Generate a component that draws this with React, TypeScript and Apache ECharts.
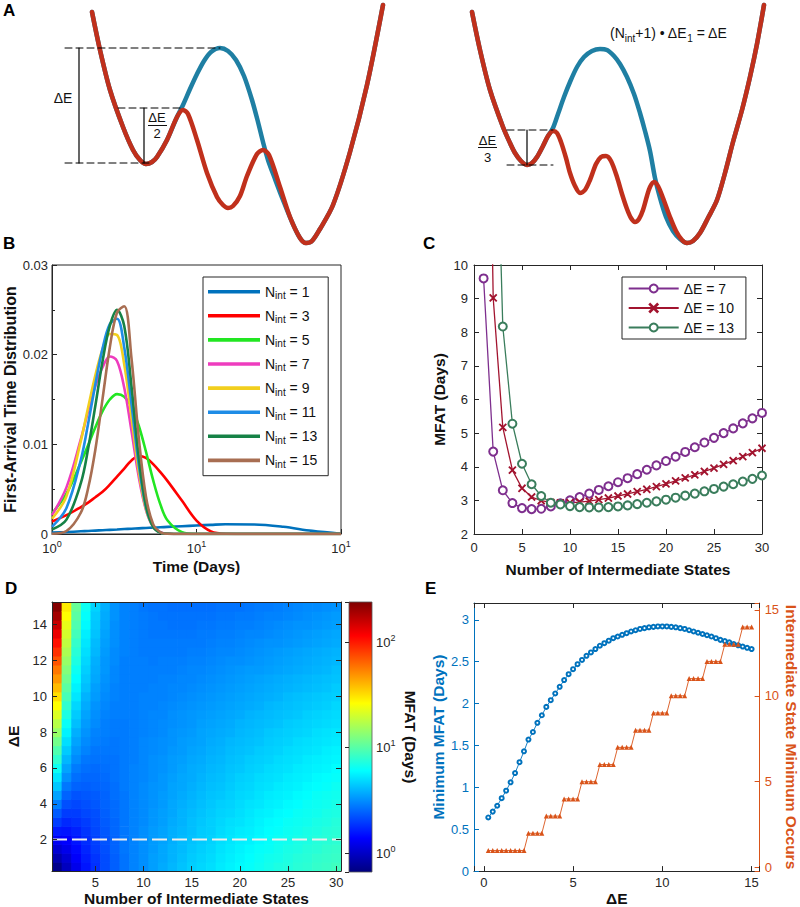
import React, { useEffect, useRef } from 'react';
import * as echarts from 'echarts';

const FONT = '"Liberation Sans", Arial, Helvetica, sans-serif';
const INK = '#262626';
const TITLE = '#111111';

// ---------------- Panel A (schematic energy landscapes, drawing units) ----------------
const leftRed = [[92,12],[100,50],[110,90],[123,127],[133,150],[140,160],[146,164],[152,162],[157,157],[167,140],[177,117],[183,110],[188,114],[197,140],[207,173],[217,197],[223,205],[228,208],[233,206],[240,196],[247,176],[257,154],[263,150],[269,155],[280,187],[290,217],[300,238],[306,243],[312,241],[320,229],[333,205],[350,152],[367,85],[383,5]];
const leftBlue = [[92,12],[100,50],[110,90],[123,127],[133,150],[140,160],[146,164],[152,162],[157,157],[167,140],[177,117],[183,105],[190,89],[197,74],[204,61],[211,52],[220,48],[228,51],[236,60],[244,76],[252,100],[258,122],[263,142],[268,160],[275,179],[283,200],[292,222],[300,238],[306,243],[312,241],[320,229],[333,205],[350,152],[367,85],[383,5]];
const rightRed = [[472,12],[480,50],[490,90],[503,127],[510,143],[515,153],[521,161],[527,165],[532,163],[537,157],[543,146],[548,136],[553,131],[557,133],[561,142],[566,158],[570,173],[575,186],[580,193],[585,190],[590,180],[596,164],[601,157],[606,156],[611,161],[617,177],[622,194],[627,209],[631,218],[635,222],[639,219],[643,210],[647,196],[650,187],[654,182],[658,186],[663,198],[670,217],[676,231],[682,240],[687,243],[693,241],[700,233],[708,218],[717,200],[725,173],[733,142],[742,110],[750,77],[757,44],[764,5]];
const rightBlue = [[472,12],[480,50],[490,90],[503,127],[510,143],[515,153],[521,161],[527,165],[532,163],[537,157],[543,146],[548,136],[553,128],[558,114],[564,97],[570,82],[577,67],[584,57],[592,51],[600,49],[607,50],[614,56],[620,64],[627,77],[634,94],[640,113],[645,131],[650,151],[655,178],[660,198],[666,217],[673,231],[680,239],[687,243],[693,241],[700,233],[708,218],[717,200],[725,173],[733,142],[742,110],[750,77],[757,44],[764,5]];
const dashedGuidesA = [
  [[65,48],[220,48]],
  [[118,108],[180,108]],
  [[65,163],[150,163]],
  [[507,130],[553,130]],
  [[507,165],[553,165]],
];
const solidGuidesA = [
  [[79,48],[79,163]],
  [[144,108],[144,163]],
  [[527,130],[527,165]],
];

// ---------------- Panel B (first-arrival time distributions) ----------------
const timeDays = [1, 1.259, 1.585, 1.778, 1.995, 2.239, 2.512, 2.818, 3.162, 3.548, 3.981, 4.467, 5.012, 5.623, 6.31, 7.943, 10, 12.59, 15.85, 25.12, 39.81, 63.1, 100];
const fatN1 = [0.00015,0.00022,0.0003,0.00034,0.00038,0.00042,0.00046,0.0005,0.00055,0.00059,0.00063,0.00067,0.00071,0.00075,0.00079,0.00087,0.00095,0.00102,0.00108,0.00106,0.0008,0.00035,0.00003];
const fatN3 = [0.0014,0.0021,0.003,0.0035,0.0041,0.0047,0.0055,0.0064,0.0073,0.0082,0.0087,0.0085,0.0078,0.0069,0.0059,0.0037,0.0015,0.0003,0.00003,0,0,0,0];
const fatN5 = [0.0023,0.0045,0.008,0.0099,0.0119,0.0137,0.015,0.0156,0.0153,0.0142,0.0121,0.0092,0.006,0.0033,0.0015,0.0002,0,0,0,0,0,0,0];
const fatN7 = [0.0021,0.0052,0.0106,0.0137,0.0165,0.0186,0.0198,0.0193,0.0163,0.0115,0.0064,0.0027,0.0008,0.0002,0.00003,0,0,0,0,0,0,0,0];
const fatN9 = [0.0017,0.0042,0.0104,0.0141,0.0177,0.0206,0.0223,0.0222,0.0189,0.013,0.007,0.0028,0.0008,0.00015,0.00002,0,0,0,0,0,0,0,0];
const fatN11 = [0.0008,0.0029,0.0083,0.0123,0.0167,0.0207,0.0234,0.024,0.0208,0.0145,0.0078,0.003,0.0008,0.00015,0.00002,0,0,0,0,0,0,0,0];
const fatN13 = [0.0005,0.0016,0.0057,0.0095,0.0143,0.0193,0.0232,0.025,0.0232,0.0165,0.0086,0.0032,0.0008,0.00015,0.00002,0,0,0,0,0,0,0,0];
const fatN15 = [0.00003,0.00033,0.0024,0.0051,0.0094,0.0151,0.0208,0.0247,0.0254,0.0196,0.0108,0.0042,0.0011,0.0002,0.00002,0,0,0,0,0,0,0,0];
const bLevels = [1, 3, 5, 7, 9, 11, 13, 15];
const bCurves = [fatN1, fatN3, fatN5, fatN7, fatN9, fatN11, fatN13, fatN15];
const bColors = ['#0072BD', '#FF0000', '#22E622', '#EE3CBE', '#F2CF1E', '#1E8CE6', '#168246', '#A86E52'];
const bTickExponents = ['0', '1', '1'];

// ---------------- Panel C (MFAT vs number of intermediate states) ----------------
const nStates = [1,2,3,4,5,6,7,8,9,10,11,12,13,14,15,16,17,18,19,20,21,22,23,24,25,26,27,28,29,30];
const mfatDE7 = [9.6,4.45,3.3,2.92,2.77,2.74,2.75,2.82,2.91,3.0,3.1,3.2,3.31,3.42,3.54,3.66,3.78,3.91,4.04,4.17,4.3,4.44,4.58,4.72,4.86,5.0,5.14,5.29,5.44,5.6];
const mfatDE10 = [26,9.02,5.17,3.9,3.36,3.1,2.99,2.94,2.925,2.93,2.95,2.98,3.02,3.07,3.13,3.19,3.26,3.33,3.41,3.49,3.58,3.67,3.76,3.86,3.96,4.07,4.18,4.3,4.42,4.55];
const mfatDE13 = [106,18.3,8.17,5.28,4.09,3.48,3.13,2.93,2.88,2.83,2.8,2.79,2.79,2.8,2.82,2.85,2.89,2.93,2.97,3.02,3.08,3.14,3.2,3.27,3.34,3.41,3.48,3.56,3.64,3.74];

// ---------------- Panel D (heatmap of log10 MFAT; one list per N, over deltaERows) ----------------
const deltaERows = [0.5,1,1.5,2,2.5,3,3.5,4,4.5,5,5.5,6,6.5,7,7.5,8,8.5,9,9.5,10,10.5,11,11.5,12,12.5,13,13.5,14,14.5,15];
const mfatLog10ByN = [
  [-0.15,-0.06,0.03,0.11,0.20,0.29,0.37,0.46,0.55,0.64,0.72,0.81,0.90,0.98,1.07,1.16,1.24,1.33,1.42,1.50,1.59,1.68,1.76,1.85,1.94,2.02,2.11,2.20,2.29,2.37],
  [-0.02,0.03,0.09,0.14,0.19,0.24,0.29,0.34,0.39,0.44,0.50,0.55,0.60,0.65,0.70,0.75,0.80,0.85,0.90,0.96,1.01,1.06,1.11,1.16,1.21,1.26,1.31,1.36,1.42,1.47],
  [0.09,0.13,0.16,0.19,0.22,0.26,0.29,0.32,0.35,0.39,0.42,0.45,0.49,0.52,0.55,0.58,0.62,0.65,0.68,0.72,0.75,0.78,0.81,0.85,0.88,0.91,0.95,0.98,1.01,1.04],
  [0.19,0.21,0.23,0.25,0.27,0.29,0.32,0.34,0.36,0.38,0.40,0.42,0.44,0.47,0.49,0.51,0.53,0.55,0.57,0.59,0.62,0.64,0.66,0.68,0.70,0.72,0.74,0.77,0.79,0.81],
  [0.26,0.27,0.29,0.30,0.32,0.33,0.34,0.36,0.37,0.39,0.40,0.41,0.43,0.44,0.46,0.47,0.49,0.50,0.51,0.53,0.54,0.56,0.57,0.58,0.60,0.61,0.63,0.64,0.65,0.67],
  [0.33,0.33,0.34,0.35,0.36,0.37,0.38,0.39,0.39,0.40,0.41,0.42,0.43,0.44,0.45,0.46,0.46,0.47,0.48,0.49,0.50,0.51,0.52,0.52,0.53,0.54,0.55,0.56,0.57,0.58],
  [0.38,0.38,0.39,0.39,0.40,0.40,0.41,0.41,0.42,0.42,0.43,0.43,0.43,0.44,0.44,0.45,0.45,0.46,0.46,0.47,0.47,0.48,0.48,0.49,0.49,0.50,0.50,0.50,0.51,0.51],
  [0.43,0.43,0.44,0.44,0.44,0.44,0.44,0.44,0.44,0.45,0.45,0.45,0.45,0.45,0.45,0.45,0.45,0.46,0.46,0.46,0.46,0.46,0.46,0.46,0.47,0.47,0.47,0.47,0.47,0.47],
  [0.47,0.47,0.47,0.47,0.47,0.47,0.47,0.47,0.47,0.47,0.47,0.47,0.46,0.46,0.46,0.46,0.46,0.46,0.46,0.46,0.46,0.46,0.46,0.46,0.46,0.46,0.46,0.46,0.46,0.46],
  [0.50,0.50,0.50,0.50,0.50,0.49,0.49,0.49,0.49,0.49,0.48,0.48,0.48,0.48,0.48,0.47,0.47,0.47,0.47,0.47,0.46,0.46,0.46,0.46,0.45,0.45,0.45,0.45,0.45,0.44],
  [0.54,0.54,0.53,0.53,0.53,0.52,0.52,0.51,0.51,0.51,0.50,0.50,0.50,0.49,0.49,0.48,0.48,0.48,0.47,0.47,0.47,0.46,0.46,0.45,0.45,0.45,0.44,0.44,0.44,0.43],
  [0.57,0.56,0.56,0.55,0.55,0.54,0.54,0.53,0.53,0.52,0.52,0.51,0.51,0.50,0.50,0.49,0.49,0.48,0.48,0.47,0.47,0.47,0.46,0.46,0.45,0.45,0.44,0.44,0.43,0.43],
  [0.60,0.59,0.59,0.58,0.58,0.57,0.56,0.56,0.55,0.55,0.54,0.53,0.53,0.52,0.51,0.51,0.50,0.50,0.49,0.48,0.48,0.47,0.46,0.46,0.45,0.45,0.44,0.43,0.43,0.42],
  [0.63,0.62,0.61,0.61,0.60,0.59,0.59,0.58,0.57,0.56,0.56,0.55,0.54,0.53,0.53,0.52,0.51,0.51,0.50,0.49,0.48,0.48,0.47,0.46,0.45,0.45,0.44,0.43,0.43,0.42],
  [0.66,0.65,0.64,0.63,0.62,0.62,0.61,0.60,0.59,0.58,0.57,0.57,0.56,0.55,0.54,0.53,0.52,0.52,0.51,0.50,0.49,0.48,0.48,0.47,0.46,0.45,0.44,0.43,0.43,0.42],
  [0.68,0.67,0.66,0.65,0.65,0.64,0.63,0.62,0.61,0.60,0.59,0.58,0.57,0.56,0.55,0.55,0.54,0.53,0.52,0.51,0.50,0.49,0.48,0.47,0.46,0.45,0.45,0.44,0.43,0.42],
  [0.70,0.69,0.68,0.67,0.66,0.66,0.65,0.64,0.63,0.62,0.61,0.60,0.59,0.58,0.57,0.56,0.55,0.54,0.53,0.52,0.51,0.50,0.49,0.48,0.47,0.46,0.45,0.44,0.43,0.42],
  [0.73,0.72,0.71,0.70,0.69,0.68,0.67,0.66,0.64,0.63,0.62,0.61,0.60,0.59,0.58,0.57,0.56,0.55,0.54,0.53,0.52,0.51,0.50,0.49,0.48,0.47,0.46,0.45,0.44,0.43],
  [0.75,0.74,0.73,0.72,0.71,0.70,0.68,0.67,0.66,0.65,0.64,0.63,0.62,0.61,0.60,0.58,0.57,0.56,0.55,0.54,0.53,0.52,0.51,0.50,0.48,0.47,0.46,0.45,0.44,0.43],
  [0.77,0.76,0.75,0.74,0.73,0.71,0.70,0.69,0.68,0.67,0.66,0.64,0.63,0.62,0.61,0.60,0.59,0.57,0.56,0.55,0.54,0.53,0.52,0.50,0.49,0.48,0.47,0.46,0.45,0.43],
  [0.79,0.78,0.77,0.75,0.74,0.73,0.72,0.71,0.69,0.68,0.67,0.66,0.65,0.63,0.62,0.61,0.60,0.59,0.57,0.56,0.55,0.54,0.53,0.51,0.50,0.49,0.48,0.46,0.45,0.44],
  [0.81,0.80,0.79,0.77,0.76,0.75,0.74,0.72,0.71,0.70,0.69,0.67,0.66,0.65,0.63,0.62,0.61,0.60,0.58,0.57,0.56,0.55,0.53,0.52,0.51,0.50,0.48,0.47,0.46,0.45],
  [0.83,0.82,0.80,0.79,0.78,0.77,0.75,0.74,0.73,0.71,0.70,0.69,0.67,0.66,0.65,0.64,0.62,0.61,0.60,0.58,0.57,0.56,0.54,0.53,0.52,0.51,0.49,0.48,0.47,0.45],
  [0.85,0.83,0.82,0.81,0.79,0.78,0.77,0.75,0.74,0.73,0.71,0.70,0.69,0.67,0.66,0.65,0.63,0.62,0.61,0.59,0.58,0.57,0.55,0.54,0.53,0.51,0.50,0.49,0.47,0.46],
  [0.86,0.85,0.84,0.82,0.81,0.80,0.78,0.77,0.75,0.74,0.73,0.71,0.70,0.69,0.67,0.66,0.65,0.63,0.62,0.61,0.59,0.58,0.56,0.55,0.54,0.52,0.51,0.50,0.48,0.47],
  [0.88,0.87,0.85,0.84,0.82,0.81,0.80,0.78,0.77,0.75,0.74,0.73,0.71,0.70,0.69,0.67,0.66,0.64,0.63,0.62,0.60,0.59,0.57,0.56,0.55,0.53,0.52,0.51,0.49,0.48],
  [0.89,0.88,0.87,0.85,0.84,0.82,0.81,0.80,0.78,0.77,0.75,0.74,0.73,0.71,0.70,0.68,0.67,0.66,0.64,0.63,0.61,0.60,0.58,0.57,0.56,0.54,0.53,0.51,0.50,0.49],
  [0.91,0.90,0.88,0.87,0.85,0.84,0.82,0.81,0.80,0.78,0.77,0.75,0.74,0.72,0.71,0.70,0.68,0.67,0.65,0.64,0.62,0.61,0.59,0.58,0.57,0.55,0.54,0.52,0.51,0.49],
  [0.92,0.91,0.90,0.88,0.87,0.85,0.84,0.82,0.81,0.79,0.78,0.76,0.75,0.74,0.72,0.71,0.69,0.68,0.66,0.65,0.63,0.62,0.60,0.59,0.58,0.56,0.55,0.53,0.52,0.50],
  [0.94,0.92,0.91,0.89,0.88,0.87,0.85,0.84,0.82,0.81,0.79,0.78,0.76,0.75,0.73,0.72,0.70,0.69,0.68,0.66,0.65,0.63,0.62,0.60,0.59,0.57,0.56,0.54,0.53,0.51],
];
const referenceDeltaE = 2;
const jetColors = ['#00007F', '#0000FF', '#007FFF', '#00FFFF', '#7FFF7F', '#FFFF00', '#FF7F00', '#FF0000', '#7F0000'];

// ---------------- Panel E ----------------
const deltaEFine = [0.25,0.5,0.75,1,1.25,1.5,1.75,2,2.25,2.5,2.75,3,3.25,3.5,3.75,4,4.25,4.5,4.75,5,5.25,5.5,5.75,6,6.25,6.5,6.75,7,7.25,7.5,7.75,8,8.25,8.5,8.75,9,9.25,9.5,9.75,10,10.25,10.5,10.75,11,11.25,11.5,11.75,12,12.25,12.5,12.75,13,13.25,13.5,13.75,14,14.25,14.5,14.75,15];
const minMfat = [0.64,0.71,0.78,0.87,0.96,1.06,1.17,1.30,1.43,1.57,1.66,1.77,1.86,1.96,2.04,2.12,2.20,2.28,2.35,2.41,2.47,2.52,2.57,2.61,2.65,2.69,2.72,2.75,2.78,2.80,2.82,2.84,2.86,2.875,2.89,2.90,2.91,2.915,2.92,2.92,2.92,2.915,2.91,2.90,2.89,2.875,2.86,2.845,2.83,2.815,2.80,2.78,2.76,2.745,2.73,2.71,2.695,2.68,2.665,2.65];
const nAtMin = [1,1,1,1,1,1,1,1,1,2,2,2,2,3,3,3,3,4,4,4,4,5,5,5,5,6,6,6,6,7,7,7,7,8,8,8,8,9,9,9,9,10,10,10,10,11,11,11,11,12,12,12,12,13,13,13,13,14,14,14];

const BLUE = '#0072BD';
const ORANGE = '#D95319';

const lab = (o: any = {}) => ({ fontFamily: FONT, fontSize: 13, color: INK, ...o });
const tick = (o: any = {}) => ({ show: true, inside: true, length: 5, lineStyle: { color: INK, width: 1 }, ...o });
const aline = (color: string = INK) => ({ show: true, onZero: false, lineStyle: { color, width: 1 } });
const nameStyle = (o: any = {}) => ({ fontFamily: FONT, fontSize: 15.5, fontWeight: 'bold', color: TITLE, ...o });
const isMult = (v: number, m: number) => Math.abs(v / m - Math.round(v / m)) < 1e-6;

function buildOption(): any {
  const series: any[] = [];
  const aSeries = (data: number[][], color: string, width: number, type: any = 'solid', smooth: number = 0) => ({
    type: 'line', xAxisIndex: 0, yAxisIndex: 0, data, symbol: 'none', smooth, silent: true,
    lineStyle: { color, width, type, cap: 'round' }, clip: false,
  });
  const A_RED = '#C0301C';
  const A_BLUE = '#1F7FA3';
  series.push(aSeries(leftBlue, A_BLUE, 4.5, 'solid', 0.3));
  series.push(aSeries(leftRed, A_RED, 4.5, 'solid', 0.3));
  series.push(aSeries(rightBlue, A_BLUE, 4.5, 'solid', 0.3));
  series.push(aSeries(rightRed, A_RED, 4.5, 'solid', 0.3));
  dashedGuidesA.forEach((d) => series.push(aSeries(d, '#000', 1, [7, 4])));
  solidGuidesA.forEach((d) => series.push(aSeries(d, '#000', 1.2)));

  bLevels.forEach((lv, i) => {
    series.push({
      name: `Nint = ${lv}`, type: 'line', xAxisIndex: 1, yAxisIndex: 1,
      data: timeDays.map((t, j) => [t, bCurves[i][j]]),
      symbol: 'none', smooth: 0.35,
      lineStyle: { color: bColors[i], width: 2.6 }, itemStyle: { color: bColors[i] },
    });
  });

  const cDefs = [
    { name: 'ΔE = 7', data: mfatDE7, color: '#7E2F8E', symbol: 'emptyCircle', size: 8 },
    { name: 'ΔE = 10', data: mfatDE10, color: '#A2142F', symbol: 'path://M0.6,0 L5,4.4 L9.4,0 L10,0.6 L5.6,5 L10,9.4 L9.4,10 L5,5.6 L0.6,10 L0,9.4 L4.4,5 L0,0.6 Z', size: 6.5 },
    { name: 'ΔE = 13', data: mfatDE13, color: '#3A7D5C', symbol: 'emptyCircle', size: 8 },
  ];
  cDefs.forEach((c) => {
    series.push({
      name: c.name, type: 'line', xAxisIndex: 2, yAxisIndex: 2,
      data: nStates.map((n, i) => [n, c.data[i]]),
      symbol: c.symbol, symbolSize: c.size, showSymbol: true, clip: true,
      lineStyle: { color: c.color, width: 1.3 },
      itemStyle: { color: c.color, borderColor: c.color, borderWidth: 1.3 },
    });
  });

  const heatmapData: number[][] = [];
  nStates.forEach((n, i) => {
    deltaERows.forEach((e, j) => heatmapData.push([n, e, mfatLog10ByN[i][j]]));
  });
  const heatIndex = series.length;
  series.push({
    type: 'custom', xAxisIndex: 4, yAxisIndex: 4, data: heatmapData, clip: true, silent: true,
    encode: { x: 0, y: 1 },
    renderItem: (params: any, api: any) => {
      const n = api.value(0);
      const e = api.value(1);
      const a = api.coord([n - 0.5, e + 0.25]);
      const b = api.coord([n + 0.5, e - 0.25]);
      return {
        type: 'rect',
        shape: { x: a[0], y: a[1], width: b[0] - a[0] + 0.7, height: b[1] - a[1] + 0.7 },
        style: { fill: api.visual('color') },
      };
    },
  });
  series.push({
    type: 'line', xAxisIndex: 4, yAxisIndex: 4, silent: true, symbol: 'none',
    data: [[0.5, referenceDeltaE], [30.5, referenceDeltaE]],
    lineStyle: { color: '#EDEDED', width: 2, type: [15, 5] }, z: 4,
  });

  series.push({
    name: 'Minimum MFAT', type: 'line', xAxisIndex: 7, yAxisIndex: 7,
    data: deltaEFine.map((e, i) => [e, minMfat[i]]),
    symbol: 'emptyCircle', symbolSize: 4, showSymbol: true,
    lineStyle: { color: BLUE, width: 0.9 }, itemStyle: { color: BLUE, borderColor: BLUE, borderWidth: 1 },
  });
  series.push({
    name: 'N at minimum', type: 'line', xAxisIndex: 7, yAxisIndex: 8,
    data: deltaEFine.map((e, i) => [e, nAtMin[i]]),
    symbol: 'triangle', symbolSize: 5, showSymbol: true,
    lineStyle: { color: ORANGE, width: 0.9 }, itemStyle: { color: ORANGE },
  });

  const sup = (size = 13) => ({
    b: lab({ fontSize: size, lineHeight: 18 }),
    s: lab({ fontSize: 9, verticalAlign: 'top', lineHeight: 18 }),
  });

  const xAxis: any[] = [
    { gridIndex: 0, type: 'value', min: 0, max: 800, show: false },
    {
      gridIndex: 1, type: 'log', logBase: 10, min: 1, max: 100,
      axisLine: aline(), axisTick: tick(), splitLine: { show: false },
      axisLabel: { ...lab(), margin: 5, formatter: (v: number, i: number) => `{b|10}{s|${bTickExponents[i] ?? ''}}`, rich: sup() },
      name: 'Time (Days)', nameLocation: 'middle', nameGap: 24, nameTextStyle: nameStyle(),
    },
    {
      gridIndex: 2, type: 'value', min: 0, max: 30, interval: 5,
      axisLine: aline(), axisTick: tick(), splitLine: { show: false }, axisLabel: { ...lab(), margin: 7 },
      name: 'Number of Intermediate States', nameLocation: 'middle', nameGap: 27, nameTextStyle: nameStyle(),
    },
    {
      gridIndex: 2, type: 'value', position: 'top', min: 0, max: 30, interval: 5,
      axisLine: aline(), axisTick: tick(), splitLine: { show: false }, axisLabel: { show: false },
    },
    {
      gridIndex: 3, type: 'value', min: 0.5, max: 30.5, splitNumber: 6, z: 5,
      axisLine: aline(), axisTick: tick(), splitLine: { show: false },
      axisLabel: { ...lab(), margin: 5, formatter: (v: number) => (isMult(v, 5) ? String(Math.round(v)) : '') },
      name: 'Number of Intermediate States', nameLocation: 'middle', nameGap: 19, nameTextStyle: nameStyle(),
    },
    {
      gridIndex: 3, type: 'value', position: 'top', min: 0.5, max: 30.5, splitNumber: 6, z: 5,
      axisLine: aline(), axisTick: tick(), splitLine: { show: false }, axisLabel: { show: false },
    },
    { gridIndex: 4, type: 'value', min: 0, max: 1, show: false },
    {
      gridIndex: 5, type: 'value', min: -0.55, max: 15.45, splitNumber: 3,
      axisLine: aline(), axisTick: tick(), splitLine: { show: false },
      axisLabel: { ...lab(), margin: 5, formatter: (v: number) => (isMult(v, 5) ? String(Math.round(v)) : '') },
      name: 'ΔE', nameLocation: 'middle', nameGap: 18, nameTextStyle: nameStyle(),
    },
    {
      gridIndex: 5, type: 'value', position: 'top', min: -0.55, max: 15.45, splitNumber: 3,
      axisLine: aline(), axisTick: tick(), splitLine: { show: false }, axisLabel: { show: false },
    },
  ];

  const yAxis: any[] = [
    { gridIndex: 0, type: 'value', min: 0, max: 250, inverse: true, show: false },
    {
      gridIndex: 1, type: 'value', min: 0, max: 0.03, interval: 0.01,
      axisLine: aline(), axisTick: tick(), splitLine: { show: false },
      minorTick: { show: true, splitNumber: 2, length: 3, lineStyle: { color: INK } },
      axisLabel: { ...lab(), margin: 4, formatter: (v: number) => (v === 0 ? '0' : v.toFixed(2)) },
      name: 'First-Arrival Time Distribution', nameLocation: 'middle', nameGap: 28, nameTextStyle: nameStyle({ fontSize: 16 }),
    },
    {
      gridIndex: 2, type: 'value', min: 2, max: 10, interval: 1,
      axisLine: aline(), axisTick: tick(), splitLine: { show: false }, axisLabel: { ...lab(), margin: 6 },
      name: 'MFAT (Days)', nameLocation: 'middle', nameGap: 27, nameTextStyle: nameStyle(),
    },
    {
      gridIndex: 2, type: 'value', position: 'right', min: 2, max: 10, interval: 1,
      axisLine: aline(), axisTick: tick(), splitLine: { show: false }, axisLabel: { show: false },
    },
    {
      gridIndex: 3, type: 'value', min: 0.25, max: 15.25, splitNumber: 7, z: 5,
      axisLine: aline(), axisTick: tick(), splitLine: { show: false },
      axisLabel: { ...lab(), margin: 5, formatter: (v: number) => (isMult(v, 2) ? String(Math.round(v)) : '') },
      name: 'ΔE', nameLocation: 'middle', nameGap: 31, nameTextStyle: nameStyle(),
    },
    {
      gridIndex: 3, type: 'value', position: 'right', min: 0.25, max: 15.25, splitNumber: 7, z: 5,
      axisLine: aline(), axisTick: tick(), splitLine: { show: false }, axisLabel: { show: false },
    },
    {
      gridIndex: 4, type: 'log', logBase: 10, min: 0.661, max: 239.9, position: 'right', z: 5,
      axisLine: { show: false }, axisTick: tick({ length: 4 }), splitLine: { show: false },
      axisLabel: {
        ...lab(), margin: 4,
        formatter: (v: number) => {
          const lg = Math.log10(v);
          const k = Math.round(lg);
          return Math.abs(lg - k) < 1e-6 ? `{b|10}{s|${k}}` : '';
        },
        rich: sup(),
      },
      name: 'MFAT (Days)', nameLocation: 'middle', nameRotate: -90, nameGap: 30, nameTextStyle: nameStyle(),
    },
    {
      gridIndex: 5, type: 'value', position: 'left', min: 0, max: 3.2, interval: 0.5,
      axisLine: aline(BLUE), axisTick: tick({ lineStyle: { color: BLUE } }), splitLine: { show: false },
      axisLabel: { ...lab({ color: BLUE }), margin: 5, showMaxLabel: false },
      name: 'Minimum MFAT (Days)', nameLocation: 'middle', nameGap: 28, nameTextStyle: nameStyle({ color: BLUE }),
    },
    {
      gridIndex: 5, type: 'value', position: 'right', min: -0.2, max: 15.4, splitNumber: 3,
      axisLine: aline(ORANGE), axisTick: tick({ lineStyle: { color: ORANGE } }), splitLine: { show: false },
      axisLabel: { ...lab({ color: ORANGE }), margin: 5, formatter: (v: number) => (isMult(v, 5) ? String(Math.round(v)) : '') },
      name: 'Intermediate State Minimum Occurs', nameLocation: 'middle', nameRotate: -90, nameGap: 23, nameTextStyle: nameStyle({ color: ORANGE }),
    },
  ];

  const panelLetter = (t: string, x: number, y: number) => ({
    type: 'text', x, y, silent: true,
    style: { text: t, fontFamily: FONT, fontSize: 17, fontWeight: 'bold', fill: '#000', align: 'left', verticalAlign: 'top' },
  });
  const aText = (t: string, x: number, y: number, size = 14) => ({
    type: 'text', x, y, silent: true,
    style: { text: t, fontFamily: FONT, fontSize: size, fill: '#111', align: 'center', verticalAlign: 'middle' },
  });

  const graphic: any[] = [
    panelLetter('A', 3, 2),
    panelLetter('B', 3, 235),
    panelLetter('C', 423, 235),
    panelLetter('D', 5, 580),
    panelLetter('E', 425, 580),
    aText('ΔE', 63, 98, 14),
    aText('ΔE', 157, 117.5, 13),
    aText('2', 157, 133, 13),
    { type: 'line', silent: true, shape: { x1: 148, y1: 125.5, x2: 167, y2: 125.5 }, style: { stroke: '#111', lineWidth: 1 } },
    aText('ΔE', 487.5, 140.5, 13),
    aText('3', 487.5, 157, 13),
    { type: 'line', silent: true, shape: { x1: 478, y1: 147.5, x2: 497, y2: 147.5 }, style: { stroke: '#111', lineWidth: 1 } },
    {
      type: 'text', x: 610, y: 33, silent: true,
      style: {
        text: '(N{sub|int}+1) • ΔE{sub|1} = ΔE', fontFamily: FONT, fontSize: 14, fill: '#111',
        align: 'left', verticalAlign: 'middle', lineHeight: 20,
        rich: { sub: { fontFamily: FONT, fontSize: 10, fill: '#111', verticalAlign: 'bottom', lineHeight: 20 } },
      },
    },
    {
      type: 'rect', silent: true, z: -1,
      shape: { x: 349, y: 602, width: 23, height: 270 },
      style: {
        fill: new echarts.graphic.LinearGradient(0, 1, 0, 0, jetColors.map((c, i) => ({ offset: i / (jetColors.length - 1), color: c }))),
        stroke: '#555', lineWidth: 0.8,
      },
    },
  ];

  return {
    animation: false,
    backgroundColor: '#ffffff',
    textStyle: { fontFamily: FONT },
    grid: [
      { left: 0, top: 0, width: 800, height: 250, show: false },
      { left: 52, top: 265, width: 289, height: 269, show: true, borderColor: INK, borderWidth: 1, backgroundColor: 'transparent' },
      { left: 474, top: 265, width: 288, height: 269, show: false },
      { left: 52, top: 602, width: 289, height: 270, show: false },
      { left: 349, top: 602, width: 23, height: 270, show: false },
      { left: 474, top: 603, width: 288, height: 270, show: false },
    ],
    xAxis,
    yAxis,
    visualMap: {
      type: 'continuous', show: false, min: -0.18, max: 2.38, dimension: 2, seriesIndex: heatIndex,
      inRange: { color: jetColors },
    },
    legend: [
      {
        data: bLevels.map((lv) => `Nint = ${lv}`),
        orient: 'vertical', left: 203, top: 277, itemWidth: 52, itemHeight: 3.6, itemGap: 6.1,
        icon: 'rect',
        padding: [5.7, 11, 6.3, 5], borderColor: INK, borderWidth: 1, backgroundColor: '#fff',
        selectedMode: false,
        formatter: (name: string) => `N{sub|int} = ${name.slice(7)}`,
        textStyle: {
          fontFamily: FONT, fontSize: 14, color: '#111', lineHeight: 18,
          rich: { sub: { fontFamily: FONT, fontSize: 10, color: '#111', verticalAlign: 'bottom', lineHeight: 18 } },
        },
      },
      {
        data: cDefs.map((c) => c.name),
        orient: 'vertical', left: 622, top: 277, itemWidth: 50, itemHeight: 10, itemGap: 3.5,
        padding: [3.5, 12, 3.5, 5.7], borderColor: INK, borderWidth: 1, backgroundColor: '#fff',
        selectedMode: false,
        textStyle: { fontFamily: FONT, fontSize: 14, color: '#111', lineHeight: 16 },
      },
    ],
    graphic,
    series,
  };
}

export default function App() {
  const ref = useRef<HTMLDivElement>(null);
  useEffect(() => {
    if (!ref.current) return;
    const chart = echarts.init(ref.current, undefined, { renderer: 'svg' });
    chart.setOption(buildOption());
    return () => chart.dispose();
  }, []);
  return <div ref={ref} style={{ position: 'absolute', left: 0, top: 0, width: 800, height: 907 }} />;
}
